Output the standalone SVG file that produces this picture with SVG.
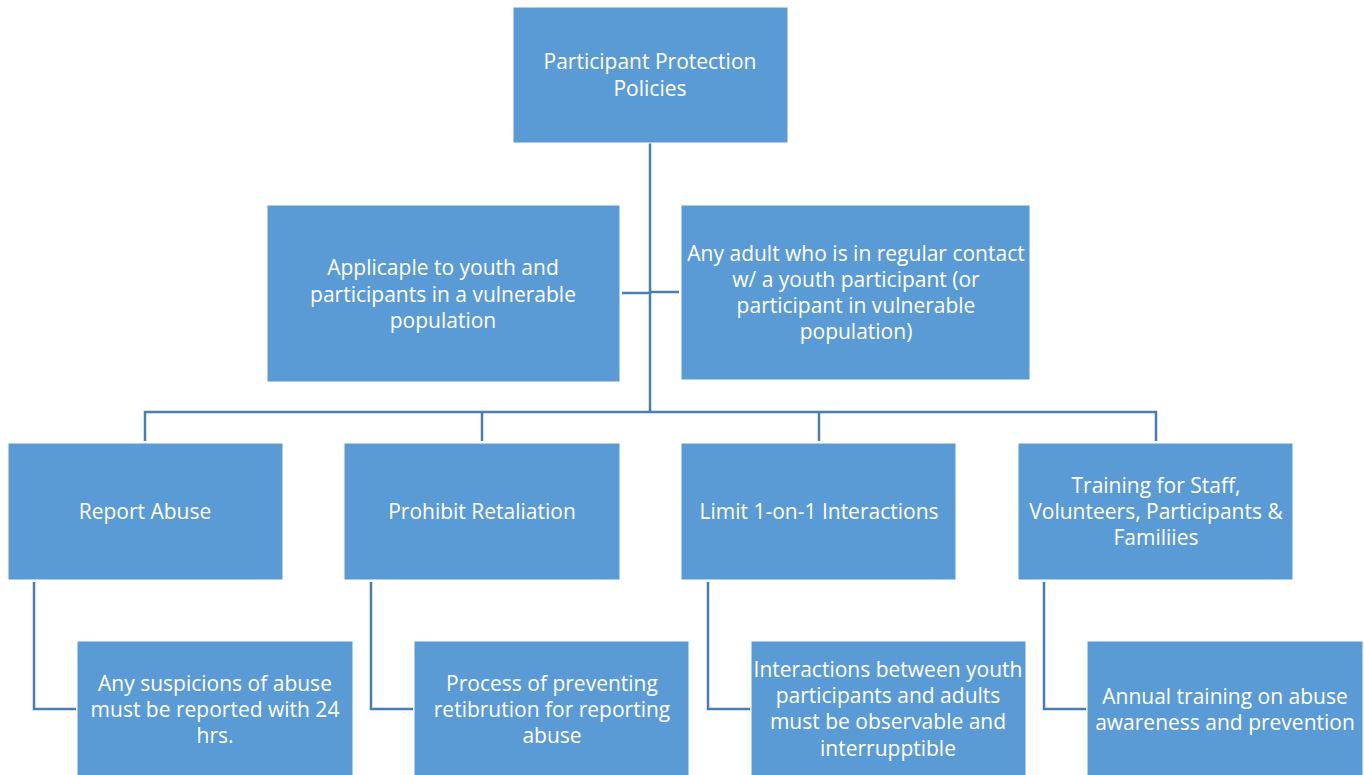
<svg xmlns="http://www.w3.org/2000/svg" width="1364" height="775" viewBox="0 0 1364 775">
<style>
.box{fill:#5B9BD5;stroke:#ffffff;stroke-width:1}
.t{font-family:"Open Sans","Noto Sans",sans-serif;font-size:21px;fill:#ffffff;text-anchor:middle}
.c{fill:none;stroke:#4A7EB0;stroke-width:2.5}
</style>
<rect width="1364" height="775" fill="#ffffff"/>
<g id="connectors">
<path class="c" d="M650,143 V412"/>
<path class="c" d="M622,293 H650"/>
<path class="c" d="M650,292 H679"/>
<path class="c" d="M145,441 V412 H1156 V441"/>
<path class="c" d="M482,412 V441"/>
<path class="c" d="M819,412 V441"/>
<path class="c" d="M34,582 V709 H76"/>
<path class="c" d="M371,582 V709 H413"/>
<path class="c" d="M708,582 V709 H750"/>
<path class="c" d="M1044,582 V709 H1086"/>
</g>
<g id="n0"><rect class="box" x="513" y="7" width="275" height="136"/><text class="t"><tspan x="650" y="69">Participant Protection</tspan><tspan x="650" y="96">Policies</tspan></text></g>
<g id="a1"><rect class="box" x="267" y="205" width="353" height="177"/><text class="t"><tspan x="443" y="275">Applicaple to youth and</tspan><tspan x="443" y="302">participants in a vulnerable</tspan><tspan x="443" y="328">population</tspan></text></g>
<g id="a2"><rect class="box" x="681" y="205" width="349" height="175"/><text class="t"><tspan x="856" y="261">Any adult who is in regular contact</tspan><tspan x="856" y="287">w/ a youth participant (or</tspan><tspan x="856" y="313">participant in vulnerable</tspan><tspan x="856" y="339">population)</tspan></text></g>
<g id="b1"><rect class="box" x="8" y="443" width="275" height="137"/><text class="t" x="145" y="519">Report Abuse</text></g>
<g id="b2"><rect class="box" x="344" y="443" width="276" height="137"/><text class="t" x="482" y="519">Prohibit Retaliation</text></g>
<g id="b3"><rect class="box" x="681" y="443" width="275" height="137"/><text class="t" x="819" y="519">Limit 1-on-1 Interactions</text></g>
<g id="b4"><rect class="box" x="1018" y="443" width="275" height="137"/><text class="t"><tspan x="1156" y="493">Training for Staff,</tspan><tspan x="1156" y="519">Volunteers, Participants &amp;</tspan><tspan x="1156" y="545">Familiies</tspan></text></g>
<g id="c1"><rect class="box" x="77" y="641" width="276" height="140"/><text class="t"><tspan x="215" y="691">Any suspicions of abuse</tspan><tspan x="215" y="717">must be reported with 24</tspan><tspan x="215" y="743">hrs.</tspan></text></g>
<g id="c2"><rect class="box" x="414" y="641" width="275" height="140"/><text class="t"><tspan x="552" y="691">Process of preventing</tspan><tspan x="552" y="717">retibrution for reporting</tspan><tspan x="552" y="743">abuse</tspan></text></g>
<g id="c3"><rect class="box" x="751" y="641" width="275" height="140"/><text class="t"><tspan x="888" y="677">Interactions between youth</tspan><tspan x="888" y="703">participants and adults</tspan><tspan x="888" y="729">must be observable and</tspan><tspan x="888" y="756">interrupptible</tspan></text></g>
<g id="c4"><rect class="box" x="1087" y="641" width="276" height="140"/><text class="t"><tspan x="1225" y="704">Annual training on abuse</tspan><tspan x="1225" y="730">awareness and prevention</tspan></text></g>
</svg>
